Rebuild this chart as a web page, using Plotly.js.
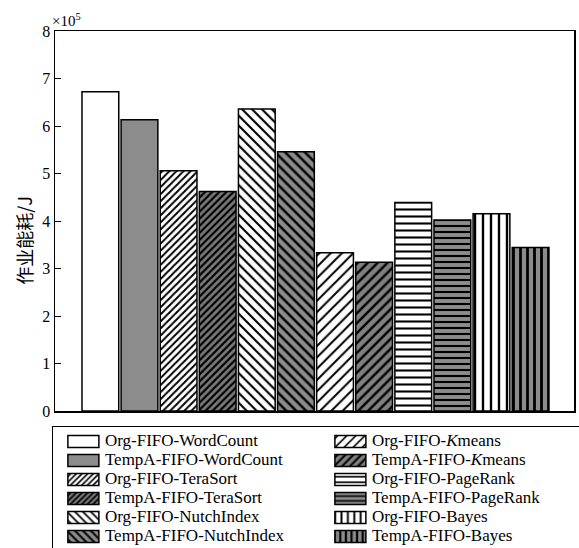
<!DOCTYPE html>
<html>
<head>
<meta charset="utf-8">
<script src="https://cdn.plot.ly/plotly-3.0.1.min.js"></script>
<style>html,body{margin:0;padding:0;background:#fff;}</style>
</head>
<body>
<div id="chart" style="width:579px;height:548px;"></div>
<script>
// Series names (bar order left to right)
const seriesNames = [
  "Org-FIFO-WordCount", "TempA-FIFO-WordCount",
  "Org-FIFO-TeraSort", "TempA-FIFO-TeraSort",
  "Org-FIFO-NutchIndex", "TempA-FIFO-NutchIndex",
  "Org-FIFO-<i>K</i>means", "TempA-FIFO-<i>K</i>means",
  "Org-FIFO-PageRank", "TempA-FIFO-PageRank",
  "Org-FIFO-Bayes", "TempA-FIFO-Bayes"
];
// Job energy consumption, units of 10^5 J
const energyValues = [6.72, 6.13, 5.06, 4.62, 6.36, 5.46, 3.33, 3.13, 4.39, 4.02, 4.15, 3.44];
const yTickValues = [0, 1, 2, 3, 4, 5, 6, 7, 8];
const yTickLabels = ["0", "1", "2", "3", "4", "5", "6", "7", "8"];

// Styles
const bgColors = ["#ffffff", "#8c8c8c", "#ffffff", "#7a7a7a", "#ffffff", "#8c8c8c",
                  "#ffffff", "#808080", "#ffffff", "#8c8c8c", "#ffffff", "#8c8c8c"];
const patShapes = ["", "", "/", "/", "\\", "\\", "/", "/", "-", "-", "|", "|"];
const patSizes = [8, 8, 5, 5, 7, 7, 8, 7, 7, 6, 8, 7];
const patSolidity = [0.3, 0.3, 0.4, 0.45, 0.3, 0.35, 0.25, 0.35, 0.3, 0.35, 0.3, 0.4];

const traces = seriesNames.map((name, i) => ({
  type: "bar",
  name: name,
  x: [String(i)],
  y: [energyValues[i]],
  width: 0.94,
  legendrank: (i < 6) ? (i * 2 + 1) * 10 : ((i - 6) * 2 + 2) * 10,
  marker: {
    color: bgColors[i],
    line: {color: "#000", width: 1.5},
    pattern: {
      shape: patShapes[i],
      size: patSizes[i],
      solidity: patSolidity[i],
      fgcolor: "#000",
      bgcolor: bgColors[i],
      fillmode: "replace"
    }
  },
  hoverinfo: "y+name"
}));

const layout = {
  width: 579, height: 548,
  margin: {l: 55, r: 5, t: 31, b: 137, autoexpand: false},
  paper_bgcolor: "#fff", plot_bgcolor: "#fff",
  barmode: "overlay",
  font: {family: "Liberation Serif, Times New Roman, serif", color: "#000", size: 15},
  xaxis: {
    type: "category",
    categoryorder: "array",
    categoryarray: seriesNames.map((_, i) => String(i)),
    range: [-1.16, 12.11],
    showticklabels: false,
    ticks: "",
    showgrid: false, zeroline: false,
    showline: true, linecolor: "#000", linewidth: 1.5, mirror: true
  },
  yaxis: {
    range: [0, 8],
    tickvals: yTickValues,
    ticktext: yTickLabels,
    ticks: "inside", ticklen: 6, tickwidth: 1, tickcolor: "#000",
    showgrid: false, zeroline: false,
    showline: true, linecolor: "#000", linewidth: 1.5, mirror: true,
    tickfont: {size: 16}
  },
  legend: {
    orientation: "h",
    x: -0.006, xanchor: "left",
    y: -0.0395, yanchor: "top",
    entrywidth: 212, entrywidthmode: "pixels",
    bordercolor: "#000", borderwidth: 1,
    bgcolor: "#fff",
    font: {size: 12},
    traceorder: "normal"
  },
  annotations: [
    {text: "×10<sup>5</sup>", xref: "paper", yref: "paper", x: -0.01, y: 1.0,
     xanchor: "left", yanchor: "bottom", showarrow: false, font: {size: 15}},
    {text: "作业能耗/J", xref: "paper", yref: "paper", x: -0.06, y: 0.45,
     textangle: -90, showarrow: false, xanchor: "center", yanchor: "middle",
     font: {family: "Noto Sans CJK SC", size: 18}}
  ],
  showlegend: true
};

function tweakLegend() {
  const items = document.querySelectorAll("#chart .legend .traces");
  items.forEach((g, k) => {
    const m = /translate\(\s*([-\d.]+)[ ,]+([-\d.]+)\s*\)/.exec(g.getAttribute("transform") || "");
    if (m && !g.dataset.tweaked) {
      const dx = (k % 2 === 0) ? 12 : 22;
      g.setAttribute("transform", "translate(" + (parseFloat(m[1]) + dx) + "," + m[2] + ")");
      g.dataset.tweaked = "1";
    }
    const t = g.querySelector(".legendtext");
    if (t) t.style.fontSize = "17px";
    const lp = g.querySelector(".legendpoints");
    if (lp) lp.setAttribute("transform", "translate(0,0)");
    g.querySelectorAll(".legendpoints path").forEach(p => {
      p.removeAttribute("transform");
      p.setAttribute("d", "M3,6H34V-6H3Z");
    });
  });
  const bg = document.querySelector("#chart .legend .bg");
  if (bg) bg.setAttribute("width", "620");
}

Plotly.newPlot("chart", traces, layout, {displayModeBar: false, staticPlot: true}).then(tweakLegend);
</script>
</body>
</html>
